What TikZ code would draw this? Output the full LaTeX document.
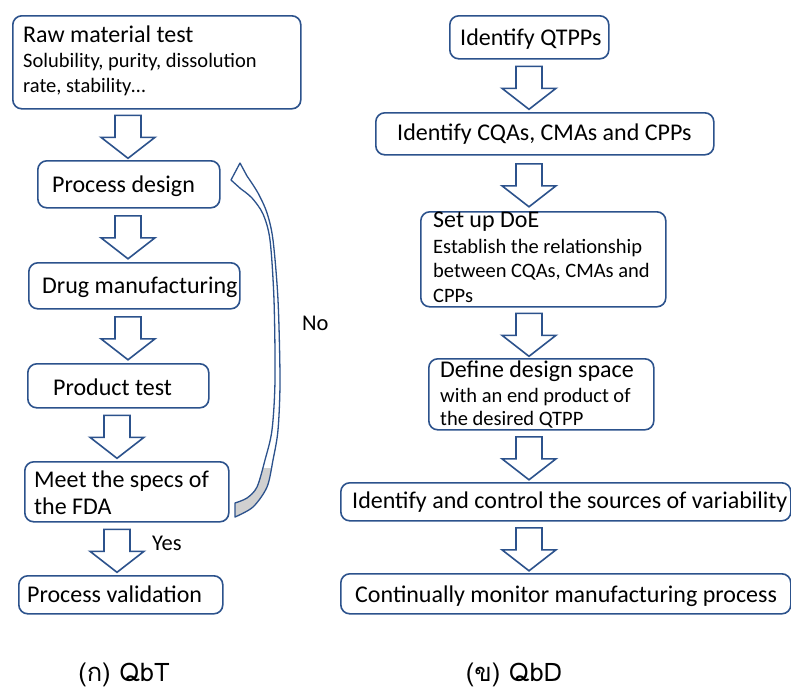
\documentclass[tikz,border=0pt]{standalone}
\usepackage{fontspec}
\setmainfont{Carlito}
\newfontfamily\thaicap[Script=Thai]{Loma}
\usetikzlibrary{calc}

\definecolor{frame}{RGB}{44,82,140}
\definecolor{backface}{RGB}{208,208,208}

\tikzset{
  box/.style={draw=frame, line width=1.6pt, rounded corners=9pt, fill=white,
    inner sep=0pt, anchor=north west},
  big/.style={font=\fontsize{24}{28}\selectfont, anchor=base west, inner sep=0pt},
  small/.style={font=\fontsize{20.5}{24}\selectfont, anchor=base west, inner sep=0pt},
  lbl/.style={font=\fontsize{22.5}{26}\selectfont, anchor=base west, inner sep=0pt},
  captext/.style={font=\thaicap\fontsize{25.5}{30}\selectfont, anchor=base, inner sep=0pt},
  flow/.style={draw=frame, line width=1.6pt, fill=white, line join=miter},
  band/.style={draw=frame, line width=1.3pt, line join=round},
}

% rounded box from its top-left (#2,#3) to bottom-right (#4,#5), y measured downwards
\newcommand\flowbox[5]{%
  \node[box, minimum width={(#4-#2)*1pt}, minimum height={(#5-#3)*1pt}] (#1) at (#2,-#3) {};}

% hollow block arrow on the axis x=#1, centred in the gap between two boxes
\newcommand\flowarrow[3]{%
  \path[flow] let \p1=(#2.south), \p2=(#3.north) in
    (#1pt-13pt,{(\y1+\y2)/2+19.5pt}) -- (#1pt+13pt,{(\y1+\y2)/2+19.5pt})
    -- (#1pt+13pt,{(\y1+\y2)/2-2.5pt}) -- (#1pt+27pt,{(\y1+\y2)/2-2.5pt})
    -- (#1pt,{(\y1+\y2)/2-23.5pt})
    -- (#1pt-27pt,{(\y1+\y2)/2-2.5pt}) -- (#1pt-13pt,{(\y1+\y2)/2-2.5pt}) -- cycle;}

% outline of the curved "No" arrow
\newcommand\loopband{(240,-163) -- (247,-176) -- plot[smooth] coordinates {(247,-176) (258,-193) (267,-213) (273,-240) (278,-300) (280,-380) (278,-430) (273,-460) (267,-487) (253,-507) (235,-517)} -- (235,-503) -- plot[smooth] coordinates {(235,-503) (247,-498) (257,-487) (265,-460) (272,-430) (275,-380) (274,-300) (270,-240) (263,-214) (252,-198) (241,-189)} -- (231,-180) -- cycle}

\begin{document}
\begin{tikzpicture}[x=1pt, y=1pt]
\useasboundingbox (0,0) rectangle (791,-691);
\fill[white] (0,0) rectangle (791,-691);

% ---------- QbT ----------
\flowbox{raw}{12}{15}{300}{108}
\node[big]   (raw1) at (23,-42) {Raw material test};
\node[small] (raw2) at (23,-67) {Solubility, purity, dissolution};
\node[small] (raw3) at (23,-92) {rate, stability…};

\flowbox{pdesign}{37}{160}{219}{207}
\node[big] (pdesign1) at (52,-192) {Process design};

\flowbox{drug}{28}{262}{239}{308}
\node[big] (drug1) at (42,-293) {Drug manufacturing};

\flowbox{ptest}{27}{363}{208}{407}
\node[big] (ptest1) at (53,-395) {Product test};

\flowbox{meet}{24}{461}{228}{521}
\node[big] (meet1) at (34,-487) {Meet the specs of};
\node[big] (meet2) at (34,-514) {the FDA};

\flowbox{valid}{18}{575}{222}{613}
\node[big] (valid1) at (27,-602) {Process validation};

\flowarrow{128}{raw}{pdesign}
\flowarrow{128}{pdesign}{drug}
\flowarrow{128}{drug}{ptest}
\flowarrow{117}{ptest}{meet}
\flowarrow{117}{meet}{valid}

\node[lbl] (yes) at (152,-550) {Yes};
\node[lbl] (no) at (302,-330) {No};

% curved return arrow: white front face, grey back face at its foot
\fill[white] \loopband;
\begin{scope}
  \clip (220,-468) rectangle (295,-530);
  \fill[backface] \loopband;
\end{scope}
\draw[band] \loopband;

% ---------- QbD ----------
\flowbox{qtpp}{449}{15}{608}{58}
\node[big] (qtpp1) at (460,-45) {Identify QTPPs};

\flowbox{cqa}{375}{112}{713}{154}
\node[big] (cqa1) at (397,-140) {Identify CQAs, CMAs and CPPs};

\flowbox{doe}{420}{211}{665}{306}
\node[big]   (doe1) at (433,-227) {Set up DoE};
\node[small] (doe2) at (433,-253) {Establish the relationship};
\node[small] (doe3) at (433,-277) {between CQAs, CMAs and};
\node[small] (doe4) at (433,-302) {CPPs};

\flowbox{dspace}{428}{358}{653}{429}
\node[big]   (dspace1) at (440,-377) {Define design space};
\node[small] (dspace2) at (440,-402) {with an end product of};
\node[small] (dspace3) at (440,-425) {the desired QTPP};

\flowbox{vary}{340}{482}{790}{520}
\node[big] (vary1) at (352,-508) {Identify and control the sources of variability};

\flowbox{monitor}{340}{573}{790}{613}
\node[big] (monitor1) at (355,-602) {Continually monitor manufacturing process};

\flowarrow{529}{qtpp}{cqa}
\flowarrow{529}{cqa}{doe}
\flowarrow{529}{doe}{dspace}
\flowarrow{529}{dspace}{vary}
\flowarrow{529}{vary}{monitor}

% ---------- captions ----------
\node[captext] (capT) at (124,-681) {(ก) QbT};
\node[captext] (capD) at (514,-681) {(ข) QbD};
\end{tikzpicture}
\end{document}
